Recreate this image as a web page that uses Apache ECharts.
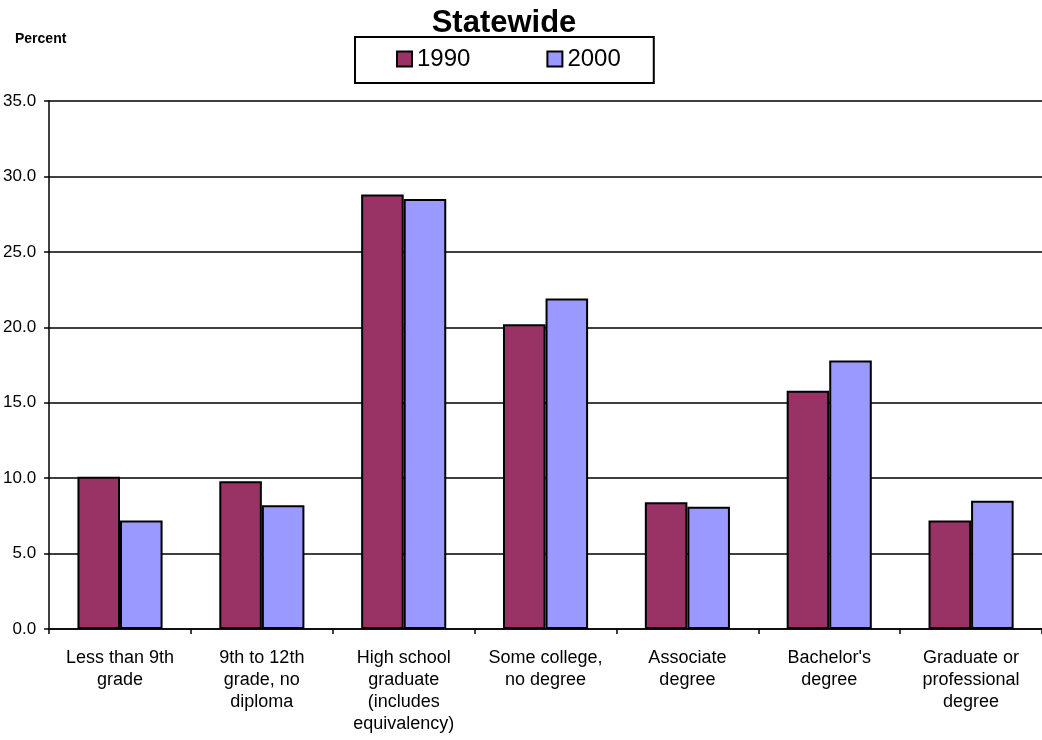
<!DOCTYPE html>
<html>
<head>
<meta charset="utf-8">
<script src="https://cdn.jsdelivr.net/npm/echarts@6/dist/echarts.min.js"></script>
<style>
html,body{margin:0;padding:0;background:#fff;}
#chart{width:1042px;height:740px;}
</style>
</head>
<body>
<div id="chart"></div>
<script>
const categories = [
  "Less than 9th\ngrade",
  "9th to 12th\ngrade, no\ndiploma",
  "High school\ngraduate\n(includes\nequivalency)",
  "Some college,\nno degree",
  "Associate\ndegree",
  "Bachelor's\ndegree",
  "Graduate or\nprofessional\ndegree"
];
const seriesNames = ["1990", "2000"];
const values1990 = [10.1, 9.8, 28.8, 20.2, 8.4, 15.8, 7.2];
const values2000 = [7.2, 8.2, 28.5, 21.9, 8.1, 17.8, 8.5];
const yTicks = { min: 0, max: 35, interval: 5 };

const chart = echarts.init(document.getElementById('chart'));
const font = '"Liberation Sans", Arial, sans-serif';
chart.setOption({
  animation: false,
  backgroundColor: '#fff',
  textStyle: { fontFamily: font, color: '#000' },
  title: [
    { text: 'Statewide', left: 499, top: 3, textAlign: 'center',
      textStyle: { fontFamily: font, fontSize: 31, fontWeight: 'bold', color: '#000' } },
    { text: 'Percent', left: 10, top: 27,
      textStyle: { fontFamily: font, fontSize: 14, fontWeight: 'bold', color: '#000' } }
  ],
  legend: {
    left: 355, top: 37,
    data: seriesNames,
    itemWidth: 15, itemHeight: 15, itemGap: 76,
    padding: [10, 33, 12, 41],
    borderColor: '#000', borderWidth: 2, borderRadius: 0,
    icon: 'rect',
    textStyle: { fontFamily: font, fontSize: 24, color: '#000', padding: [0, 0, 0, 0] }
  },
  grid: { left: 49, right: 0, top: 101, bottom: 111, containLabel: false },
  xAxis: {
    type: 'category',
    data: categories,
    axisLine: { lineStyle: { color: '#000', width: 1.5 } },
    axisTick: { show: true, length: 5, inside: false, lineStyle: { color: '#000', width: 1.5 } },
    axisLabel: { fontFamily: font, fontSize: 18, lineHeight: 22, color: '#000', margin: 18, interval: 0 }
  },
  yAxis: {
    type: 'value',
    min: yTicks.min, max: yTicks.max, interval: yTicks.interval,
    axisLine: { show: true, lineStyle: { color: '#000', width: 1.5 } },
    axisTick: { show: true, length: 5, lineStyle: { color: '#000', width: 1.5 } },
    axisLabel: { fontFamily: font, fontSize: 17, color: '#000', margin: 13,
      formatter: v => v.toFixed(1) },
    splitLine: { show: true, lineStyle: { color: '#000', width: 1.5 } }
  },
  series: [
    { name: seriesNames[0], type: 'bar', data: values1990,
      barGap: '0%', barCategoryGap: '40%',
      itemStyle: { color: '#993366', borderColor: '#000', borderWidth: 2 } },
    { name: seriesNames[1], type: 'bar', data: values2000,
      itemStyle: { color: '#9999FF', borderColor: '#000', borderWidth: 2 } }
  ]
});
</script>
</body>
</html>
